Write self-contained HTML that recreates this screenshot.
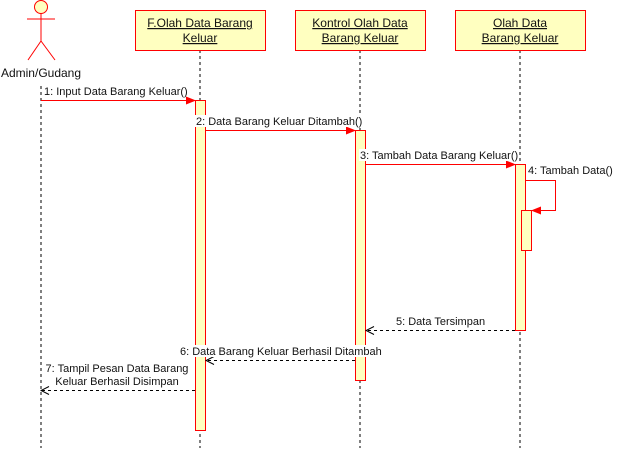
<!DOCTYPE html>
<html><head><meta charset="utf-8"><style>
html,body{margin:0;padding:0;background:#fff;width:625px;height:453px;overflow:hidden}
text{font-family:"Liberation Sans",Arial,sans-serif;font-size:11px;fill:#111}
text.b{font-size:12px;text-decoration:underline}
text.a{font-size:12px}
</style></head><body>
<svg width="625" height="453" viewBox="0 0 625 453" xmlns="http://www.w3.org/2000/svg">
<defs>
<marker id="fa" markerWidth="10" markerHeight="10" refX="9" refY="5" orient="auto" markerUnits="userSpaceOnUse"><path d="M0,1 L10,5 L0,9 Z" fill="#f00"/></marker>
<marker id="oa" markerWidth="10" markerHeight="10" refX="9" refY="5" orient="auto" markerUnits="userSpaceOnUse"><path d="M1,1 L9,5 L1,9" fill="none" stroke="#000" stroke-width="1"/></marker>
</defs>
<circle cx="41" cy="7" r="6.5" fill="#ffffc0" stroke="#f00"/>
<line x1="41" y1="13.5" x2="41" y2="41" stroke="#f00"/>
<line x1="27" y1="19" x2="55" y2="19" stroke="#f00"/>
<line x1="41" y1="41" x2="28" y2="60" stroke="#f00"/>
<line x1="41" y1="41" x2="55" y2="60" stroke="#f00"/>
<text class="a" x="41" y="77" text-anchor="middle">Admin/Gudang</text>
<g stroke="#000" stroke-dasharray="3,3">
<line x1="41" y1="86" x2="41" y2="448"/>
<line x1="200" y1="50" x2="200" y2="448"/>
<line x1="360" y1="50" x2="360" y2="448"/>
<line x1="520" y1="50" x2="520" y2="448"/>
</g>
<g fill="#ffffc0" stroke="#f00">
<rect x="135.5" y="10.5" width="130" height="40"/>
<rect x="295.5" y="10.5" width="130" height="40"/>
<rect x="455.5" y="10.5" width="130" height="40"/>
</g>
<g text-anchor="middle">
<text class="b" x="200" y="27">F.Olah Data Barang</text>
<text class="b" x="200" y="42">Keluar</text>
<text class="b" x="360" y="27">Kontrol Olah Data</text>
<text class="b" x="360" y="42">Barang Keluar</text>
<text class="b" x="520" y="27">Olah Data</text>
<text class="b" x="520" y="42">Barang Keluar</text>
</g>
<g fill="#ffffc0" stroke="#f00">
<rect x="195.5" y="100.5" width="10" height="330"/>
<rect x="355.5" y="130.5" width="10" height="250"/>
<rect x="515.5" y="164.5" width="10" height="166"/>
<rect x="521.5" y="210.5" width="10" height="40"/>
</g>
<g stroke="#f00" fill="none">
<line x1="41" y1="100.5" x2="195" y2="100.5" marker-end="url(#fa)"/>
<line x1="206" y1="130.5" x2="355" y2="130.5" marker-end="url(#fa)"/>
<line x1="366" y1="164.5" x2="515" y2="164.5" marker-end="url(#fa)"/>
<polyline points="526,180.5 555.5,180.5 555.5,210.5 532,210.5" marker-end="url(#fa)"/>
</g>
<g stroke="#000" fill="none" stroke-dasharray="3,3">
<line x1="515" y1="330.5" x2="366" y2="330.5" marker-end="url(#oa)"/>
<line x1="355" y1="360.5" x2="206" y2="360.5" marker-end="url(#oa)"/>
<line x1="195" y1="390.5" x2="41" y2="390.5" marker-end="url(#oa)"/>
</g>
<text x="44" y="95">1: Input Data Barang Keluar()</text>
<rect x="195" y="115" width="166" height="12" fill="#fff"/>
<text x="196" y="125">2: Data Barang Keluar Ditambah()</text>
<rect x="359" y="149" width="160" height="12" fill="#fff"/>
<text x="360" y="159">3: Tambah Data Barang Keluar()</text>
<text x="528" y="174">4: Tambah Data()</text>
<text x="396" y="325">5: Data Tersimpan</text>
<rect x="179" y="345" width="203" height="12" fill="#fff"/>
<text x="180" y="355">6: Data Barang Keluar Berhasil Ditambah</text>
<text x="117" y="372" text-anchor="middle">7: Tampil Pesan Data Barang</text>
<text x="117" y="385" text-anchor="middle">Keluar Berhasil Disimpan</text>
</svg>
</body></html>
